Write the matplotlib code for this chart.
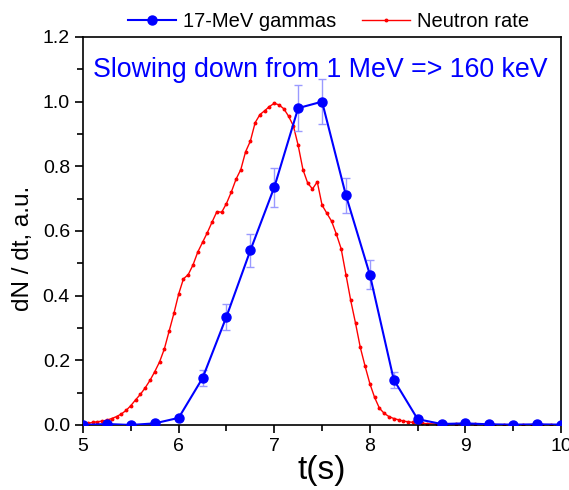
import matplotlib.pyplot as plt
import numpy as np
from matplotlib.ticker import MultipleLocator

plt.rcParams['font.family'] = ['Liberation Sans', 'DejaVu Sans']

# 17-MeV gammas
t_gam = [5.0, 5.25, 5.5, 5.75, 6.0, 6.25, 6.5, 6.75, 7.0, 7.25, 7.5,
         7.75, 8.0, 8.25, 8.5, 8.75, 9.0, 9.25, 9.5, 9.75, 10.0]
gam = [0.0, 0.003, 0.0, 0.005, 0.022, 0.145, 0.335, 0.54, 0.735, 0.98, 1.0,
       0.71, 0.465, 0.14, 0.018, 0.003, 0.005, 0.002, 0.001, 0.002, 0.001]
gam_err = [0, 0, 0, 0, 0, 0.025, 0.04, 0.05, 0.06, 0.07, 0.07,
           0.055, 0.045, 0.025, 0, 0, 0, 0, 0, 0, 0]

# neutron rate
t_neu = [5.00, 5.05, 5.10, 5.15, 5.20, 5.25, 5.30, 5.35, 5.40, 5.45,
         5.50, 5.55, 5.60, 5.65, 5.70, 5.75, 5.80, 5.85, 5.90, 5.95,
         6.00, 6.05, 6.10, 6.15, 6.20, 6.25, 6.30, 6.35, 6.40, 6.45,
         6.50, 6.55, 6.60, 6.65, 6.70, 6.75, 6.80, 6.85, 6.90, 6.95,
         7.00, 7.05, 7.10, 7.15, 7.20, 7.25, 7.30, 7.35, 7.40, 7.45,
         7.50, 7.55, 7.60, 7.65, 7.70, 7.75, 7.80, 7.85, 7.90, 7.95,
         8.00, 8.05, 8.10, 8.15, 8.20, 8.25, 8.30, 8.35, 8.40, 8.45,
         8.50, 8.55, 8.60, 8.70, 8.80, 8.90, 9.00, 9.10, 9.20, 9.30,
         9.40, 9.50, 9.60, 9.70, 9.80, 9.90, 10.0]
neu = [0.003, 0.005, 0.008, 0.010, 0.012, 0.015, 0.020, 0.026, 0.034, 0.045,
       0.060, 0.078, 0.095, 0.115, 0.138, 0.165, 0.195, 0.235, 0.290, 0.345,
       0.405, 0.452, 0.465, 0.495, 0.535, 0.565, 0.595, 0.628, 0.660, 0.658,
       0.685, 0.720, 0.760, 0.790, 0.845, 0.878, 0.935, 0.960, 0.972, 0.985,
       0.995, 0.990, 0.978, 0.955, 0.925, 0.865, 0.790, 0.748, 0.730, 0.752,
       0.680, 0.655, 0.630, 0.590, 0.545, 0.465, 0.385, 0.315, 0.240, 0.182,
       0.128, 0.085, 0.052, 0.036, 0.026, 0.020, 0.016, 0.012, 0.010, 0.008,
       0.006, 0.005, 0.004, 0.003, 0.003, 0.002, 0.002, 0.002, 0.001, 0.001,
       0.001, 0.001, 0.001, 0.001, 0.001, 0.001, 0.001]

fig = plt.figure(figsize=(5.69, 4.9), dpi=100)
ax = fig.add_axes([0.146, 0.1327, 0.84, 0.7918])

ax.plot(t_neu, neu, color='red', lw=1.0, marker='o', ms=1.8,
        label='Neutron rate', zorder=2)
ax.errorbar(t_gam, gam, yerr=gam_err, fmt='none', ecolor='#9a9aff',
            elinewidth=1, capsize=3, capthick=1, zorder=3)
ax.plot(t_gam, gam, color='blue', lw=1.5, marker='o', ms=6.5,
        label='17-MeV gammas', zorder=4)

ax.set_xlim(5, 10)
ax.set_ylim(0, 1.2)
ax.xaxis.set_major_locator(MultipleLocator(1))
ax.xaxis.set_minor_locator(MultipleLocator(0.5))
ax.yaxis.set_major_locator(MultipleLocator(0.2))
ax.yaxis.set_minor_locator(MultipleLocator(0.1))
ax.yaxis.set_major_formatter(plt.FormatStrFormatter('%.1f'))
ax.tick_params(which='both', direction='out', width=1.2, labelsize=14)
ax.tick_params(which='major', length=6)
ax.tick_params(which='minor', length=4)
for s in ax.spines.values():
    s.set_linewidth(1.2)

ax.set_xlabel('t(s)', fontsize=24, labelpad=0)
ax.set_ylabel('dN / dt, a.u.', fontsize=17.5)
ax.yaxis.set_label_coords(-0.103, 0.455)

ax.text(0.02, 0.915, 'Slowing down from 1 MeV => 160 keV', transform=ax.transAxes,
        color='blue', fontsize=19.3, va='center', ha='left')

h, l = ax.get_legend_handles_labels()
ax.legend(h[::-1], l[::-1], loc='lower center', bbox_to_anchor=(0.514, 0.995),
          ncol=2, frameon=False, fontsize=14.5, handlelength=2.4,
          columnspacing=1.25, borderaxespad=0, handletextpad=0.35)

fig.savefig('out.png', dpi=100)
